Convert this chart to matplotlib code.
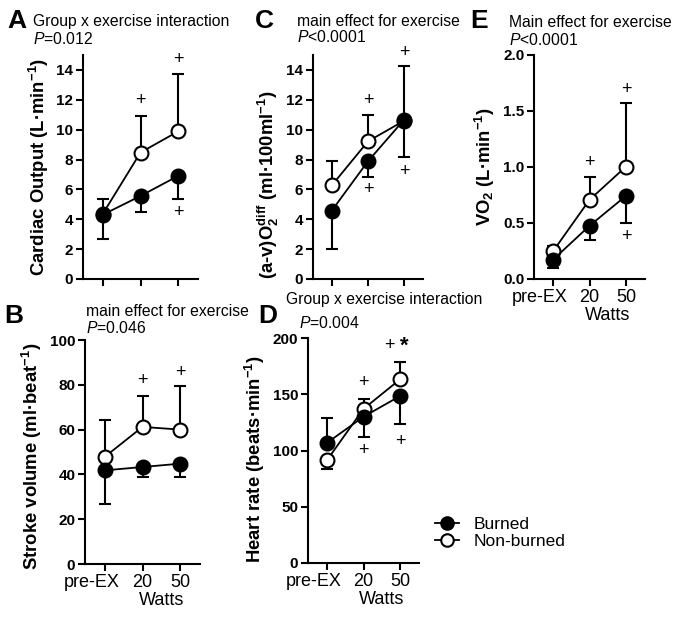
import numpy as np
import matplotlib.pyplot as plt
from matplotlib.transforms import ScaledTranslation

plt.rcParams['font.family'] = ['Liberation Sans', 'DejaVu Sans']
plt.rcParams['mathtext.fontset'] = 'custom'
plt.rcParams['mathtext.rm'] = 'Liberation Sans'
plt.rcParams['mathtext.it'] = 'Liberation Sans:italic'
plt.rcParams['mathtext.bf'] = 'Liberation Sans:bold'
plt.rcParams['mathtext.default'] = 'regular'

W, H = 680, 618

stages = ['pre-EX', '20', '50']

# A - cardiac output (L/min)
co_burn = [4.3, 5.56, 6.91]
co_burn_sd = [1.59, 1.09, 1.55]        # drawn downwards
co_non = [4.35, 8.47, 9.89]
co_non_sd = [0.98, 2.43, 3.84]         # drawn upwards
co_plus = [(1, 11.96), (2, 14.73), (2, 4.44)]

# B - stroke volume (ml/beat)
sv_burn = [41.8, 43.3, 44.8]
sv_burn_sd = [14.9, 4.5, 6.0]
sv_non = [47.8, 61.2, 60.0]
sv_non_sd = [16.4, 13.8, 19.4]
sv_plus = [(1, 81.8), (2, 85.5)]

# C - (a-v)O2 diff (ml/100ml)
avo_burn = [4.58, 7.89, 10.67]
avo_burn_sd = [2.54, 1.09, 2.49]
avo_non = [6.27, 9.22, 10.6]
avo_non_sd = [1.62, 1.74, 3.64]
avo_plus = [(1, 11.96), (1, 5.96), (2, 15.18), (2, 7.18)]

# D - heart rate (beats/min); bars point away from the other group
hr_burn = [106.8, 130.0, 148.4]
hr_burn_up = [22.2, 0, 0]
hr_burn_down = [0, 18.1, 24.7]
hr_non = [91.4, 137.0, 163.2]
hr_non_up = [0, 9.0, 15.8]
hr_non_down = [7.7, 0, 0]
hr_plus = [(1, 160.8), (1, 100.3), (2, 108.3)]
hr_plus_star = [(2, 193.0)]

# E - VO2 (L/min)
vo_burn = [0.172, 0.475, 0.743]
vo_burn_sd = [0.074, 0.13, 0.243]
vo_non = [0.247, 0.707, 1.004]
vo_non_sd = [0.05, 0.208, 0.565]
vo_plus = [(1, 1.043), (2, 1.688), (2, 0.38)]

x = np.arange(len(stages))
zeros = [0, 0, 0]


def add_ax(fig, left, right, top, bottom):
    return fig.add_axes([left / W, 1 - bottom / H, (right - left) / W, (bottom - top) / H])


def draw(ax, burn, burn_lo, burn_hi, non, non_lo, non_hi):
    ax.errorbar(x, non, yerr=[non_lo, non_hi], fmt='none', ecolor='black',
                elinewidth=1.5, capsize=4.5, capthick=1.5, zorder=1)
    ax.errorbar(x, burn, yerr=[burn_lo, burn_hi], fmt='none', ecolor='black',
                elinewidth=1.5, capsize=4.5, capthick=1.5, zorder=1)
    ln_non, = ax.plot(x, non, '-o', color='black', mfc='white', mec='black',
                      ms=10, mew=1.5, lw=1.3, zorder=3, clip_on=False)
    ln_burn, = ax.plot(x, burn, '-o', color='black', mfc='black', mec='black',
                       ms=10, mew=1.5, lw=1.3, zorder=4, clip_on=False)
    return ln_burn, ln_non


def style(ax, ylim, yticks, fmt, ylabel, show_x, label_y=0.5):
    ax.set_xlim(-0.52, 2.52)
    ax.set_ylim(*ylim)
    ax.set_yticks(yticks)
    ax.set_yticklabels([fmt.format(v) for v in yticks], fontweight='bold', fontsize=11)
    ax.set_xticks(x)
    for s in ['top', 'right']:
        ax.spines[s].set_visible(False)
    for s in ['left', 'bottom']:
        ax.spines[s].set_linewidth(1.5)
    ax.tick_params(width=1.5, length=5, pad=2)
    if show_x:
        ax.set_xticklabels(stages, fontsize=13)
        # pre-EX sits a bit left of its tick, as in the original
        lbl = ax.get_xticklabels()[0]
        lbl.set_transform(lbl.get_transform() + ScaledTranslation(-0.13, 0, fig.dpi_scale_trans))
        ax.set_xlabel('Watts', fontsize=13, labelpad=0)
        ax.xaxis.set_label_coords((1.5 + 0.52) / 3.04, -0.125)
    else:
        ax.set_xticklabels([])
    ax.set_ylabel(ylabel, fontsize=13.3, fontweight='bold', labelpad=4)
    ax.yaxis.label.set_y(label_y)


def plus(ax, pts, txt='+'):
    for xi, yi in pts:
        ax.text(xi, yi, txt, ha='center', va='center', fontsize=13)


fig = plt.figure(figsize=(W / 100, H / 100), dpi=100)

axA = add_ax(fig, 83, 198, 55, 279)
handles = draw(axA, co_burn, co_burn_sd, zeros, co_non, zeros, co_non_sd)
style(axA, (0, 15), range(0, 15, 2), '{:d}', 'Cardiac Output (L·min$^{-1}$)', False)
plus(axA, co_plus)

axB = add_ax(fig, 85, 200, 340, 564)
draw(axB, sv_burn, sv_burn_sd, zeros, sv_non, zeros, sv_non_sd)
style(axB, (0, 100), range(0, 101, 20), '{:d}', 'Stroke volume (ml·beat$^{-1}$)', True, 0.48)
plus(axB, sv_plus)

axC = add_ax(fig, 313, 423, 55, 279)
draw(axC, avo_burn, avo_burn_sd, zeros, avo_non, zeros, avo_non_sd)
style(axC, (0, 15), range(0, 15, 2), '{:d}', '(a-v)O$_2^{diff}$ (ml·100ml$^{-1}$)', False, 0.42)
plus(axC, avo_plus)

axD = add_ax(fig, 308, 419, 338, 563)
draw(axD, hr_burn, hr_burn_down, hr_burn_up, hr_non, hr_non_down, hr_non_up)
style(axD, (0, 200), range(0, 201, 50), '{:d}', 'Heart rate (beats·min$^{-1}$)', True, 0.46)
plus(axD, hr_plus)
for xi, yi in hr_plus_star:
    axD.text(xi, yi, '+ ', ha='right', va='center', fontsize=13)
    axD.text(xi, yi, '*', ha='left', va='center', fontsize=16, fontweight='bold')

axE = add_ax(fig, 534, 645, 55, 279)
draw(axE, vo_burn, vo_burn_sd, zeros, vo_non, zeros, vo_non_sd)
style(axE, (0, 2.0), [0, 0.5, 1.0, 1.5, 2.0], '{:.1f}', 'VO$_2$ (L·min$^{-1}$)', True)
plus(axE, vo_plus)


def ftext(px, py, s, **kw):
    fig.text(px / W, 1 - py / H, s, va='baseline', ha='left', **kw)


# panel letters and stats notes
note = 11.3
ftext(7, 28, 'A', fontsize=19, fontweight='bold')
ftext(33, 26, 'Group x exercise interaction', fontsize=note)
ftext(33, 44, '$\\mathit{P}$=0.012', fontsize=note)

ftext(4, 323, 'B', fontsize=19, fontweight='bold')
ftext(86, 316, 'main effect for exercise', fontsize=note)
ftext(86, 333, '$\\mathit{P}$=0.046', fontsize=note)

ftext(255, 28, 'C', fontsize=19, fontweight='bold')
ftext(297, 26, 'main effect for exercise', fontsize=note)
ftext(297, 42, '$\\mathit{P}$<0.0001', fontsize=note)

ftext(258, 323, 'D', fontsize=19, fontweight='bold')
ftext(286, 304, 'Group x exercise interaction', fontsize=note)
ftext(299, 328, '$\\mathit{P}$=0.004', fontsize=note)

ftext(470, 28, 'E', fontsize=19, fontweight='bold')
ftext(509, 27, 'Main effect for exercise', fontsize=note)
ftext(509, 45, '$\\mathit{P}$<0.0001', fontsize=note)

fig.legend(handles, ['Burned', 'Non-burned'], loc='center left',
           bbox_to_anchor=(435 / W, 1 - 533 / H), frameon=False, fontsize=12.5,
           handlelength=1.4, handletextpad=0.8, labelspacing=0.15,
           borderpad=0, borderaxespad=0, markerscale=0.9)

fig.savefig('out.png', dpi=100)
